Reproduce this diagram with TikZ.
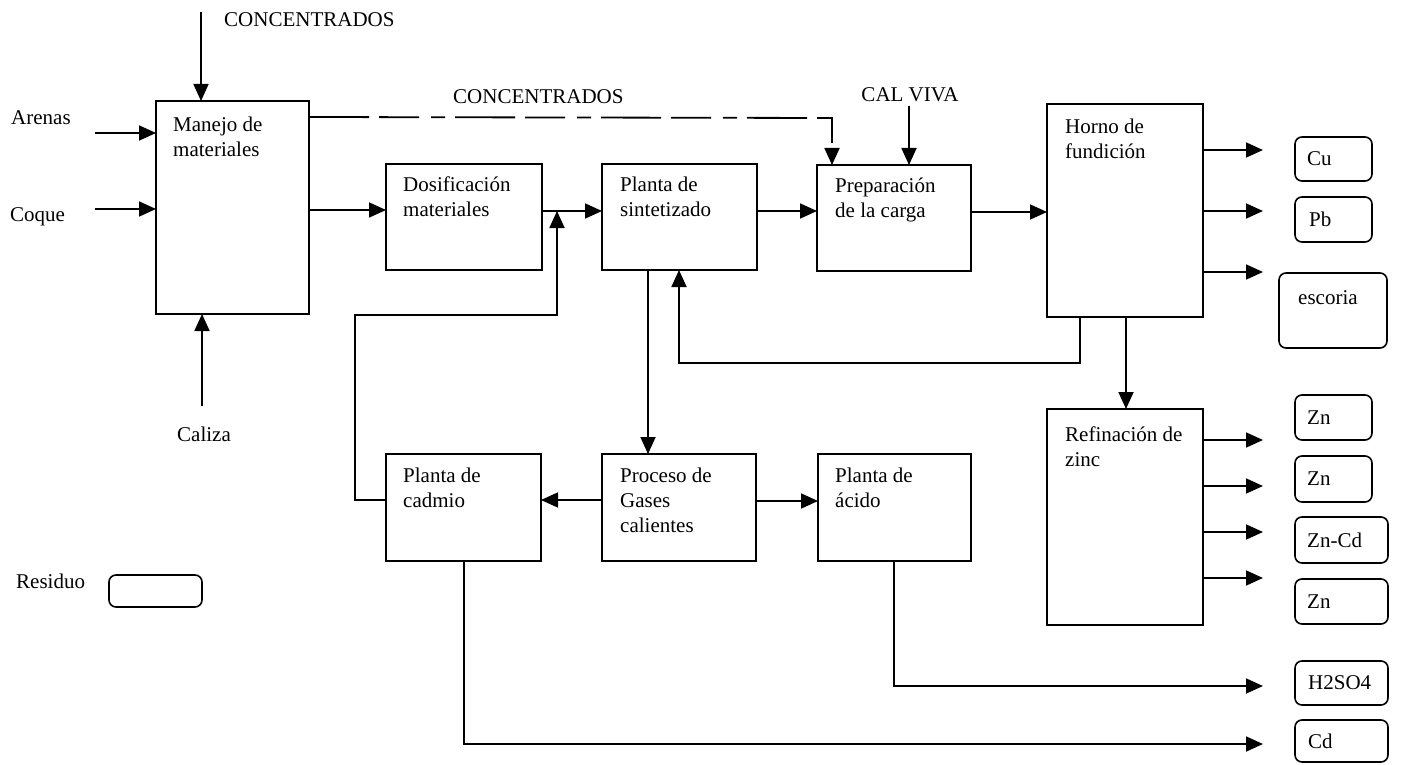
\documentclass[tikz,border=0pt]{standalone}
\usepackage{fontspec}
\setmainfont{Liberation Serif}
\usetikzlibrary{arrows.meta}
\begin{document}
\begin{tikzpicture}[x=1pt,y=-1pt,
  box/.style={draw, line width=1.8pt, inner sep=0, outer sep=0, anchor=north west},
  obox/.style={draw, line width=1.6pt, rounded corners=7pt, inner sep=0, outer sep=0, anchor=north west},
  lbl/.style={anchor=north west, inner sep=0, align=left, font=\fontsize{21}{25}\selectfont},
  txt/.style={inner sep=0, font=\fontsize{21}{25}\selectfont},
  flow/.style={line width=1.8pt, -{Triangle[length=17pt,width=15pt]}},
  conn/.style={line width=1.8pt}
]
\useasboundingbox (0,0) rectangle (1403,765);

% process boxes
\node[box, minimum width=153pt, minimum height=213pt] (man) at (156,101) {};
\node[box, minimum width=156pt, minimum height=106pt] (dos) at (386,164) {};
\node[box, minimum width=155pt, minimum height=106pt] (sin) at (602,164) {};
\node[box, minimum width=154pt, minimum height=106pt] (pre) at (817,165) {};
\node[box, minimum width=156pt, minimum height=213pt] (hor) at (1047,104) {};
\node[box, minimum width=155pt, minimum height=107pt] (cad) at (386,454) {};
\node[box, minimum width=154pt, minimum height=107pt] (gas) at (602,454) {};
\node[box, minimum width=153pt, minimum height=107pt] (aci) at (818,454) {};
\node[box, minimum width=156pt, minimum height=216pt] (ref) at (1047,409) {};

% box texts
\node[lbl] (manT) at ([shift={(17,16)}]man.north west) {Manejo de\\materiales};
\node[lbl] (dosT) at ([shift={(17,13)}]dos.north west) {Dosificación\\materiales};
\node[lbl] (sinT) at ([shift={(18,13)}]sin.north west) {Planta de\\sintetizado};
\node[lbl] (preT) at ([shift={(18,13)}]pre.north west) {Preparación\\de la carga};
\node[lbl] (horT) at ([shift={(18,15)}]hor.north west) {Horno de\\fundición};
\node[lbl] (cadT) at ([shift={(17,14)}]cad.north west) {Planta de\\cadmio};
\node[lbl] (gasT) at ([shift={(18,14)}]gas.north west) {Proceso de\\Gases\\calientes};
\node[lbl] (aciT) at ([shift={(17,14)}]aci.north west) {Planta de\\ácido};
\node[lbl] (refT) at ([shift={(18,18)}]ref.north west) {Refinación de\\zinc};

% product boxes
\node[obox, minimum width=77pt, minimum height=44pt] (cu) at (1295,137) {};
\node[obox, minimum width=77pt, minimum height=45pt] (pb) at (1295,197) {};
\node[obox, minimum width=108pt, minimum height=75pt] (esc) at (1279,273) {};
\node[obox, minimum width=77pt, minimum height=45pt] (zna) at (1295,395) {};
\node[obox, minimum width=77pt, minimum height=46pt] (znb) at (1295,456) {};
\node[obox, minimum width=93pt, minimum height=46pt] (zncd) at (1295,517) {};
\node[obox, minimum width=93pt, minimum height=45pt] (znc) at (1295,579) {};
\node[obox, minimum width=93pt, minimum height=44pt] (hso) at (1295,661) {};
\node[obox, minimum width=93pt, minimum height=42pt] (cd) at (1295,720) {};
\node[obox, minimum width=93pt, minimum height=32pt] (resB) at (109,575) {};

\node[txt, anchor=west] (cuT) at ([xshift=12pt]cu.west) {Cu};
\node[txt, anchor=west] (pbT) at ([xshift=14pt]pb.west) {Pb};
\node[txt, anchor=base west] (escT) at (1298,304) {escoria};
\node[txt, anchor=west] (znaT) at ([xshift=12pt]zna.west) {Zn};
\node[txt, anchor=west] (znbT) at ([xshift=12pt]znb.west) {Zn};
\node[txt, anchor=west] (zncdT) at ([xshift=12pt]zncd.west) {Zn-Cd};
\node[txt, anchor=west] (zncT) at ([xshift=12pt]znc.west) {Zn};
\node[txt, anchor=west] (hsoT) at ([xshift=13pt]hso.west) {H2SO4};
\node[txt, anchor=west] (cdT) at ([xshift=13pt]cd.west) {Cd};

% free labels
\node[txt, anchor=base west] (conc1) at (224,27) {CONCENTRADOS};
\node[txt, anchor=base west] (conc2) at (453,104) {CONCENTRADOS};
\node[txt, anchor=base] (calv) at (910,102) {CAL VIVA};
\node[txt, anchor=base west] (are) at (11,125) {Arenas};
\node[txt, anchor=base west] (coq) at (10,221) {Coque};
\node[txt, anchor=base west] (cal) at (177,441) {Caliza};
\node[txt, anchor=base west] (res) at (16,588) {Residuo};

% free ends
\coordinate (concS) at (201,12);
\coordinate (areS) at (95,133);
\coordinate (coqS) at (95,209);
\coordinate (calS) at (202,406);
\coordinate (calvS) at (909,106);
\coordinate (dashTurn) at (832,118);
\coordinate (junc) at (557,211);
\coordinate (outX) at (1263,0);

% inputs to Manejo
\draw[flow] (concS) -- (concS |- man.north);
\draw[flow] (areS) -- (areS -| man.west);
\draw[flow] (coqS) -- (coqS -| man.west);
\draw[flow] (calS) -- (calS |- man.south);

% main line
\draw[flow] (man.east |- 0,210) -- (dos.west |- 0,210);
\draw[flow] (dos.east |- junc) -- (sin.west |- junc);
\draw[flow] (sin.east |- 0,211) -- (pre.west |- 0,211);
\draw[flow] (pre.east |- 0,212) -- (hor.west |- 0,212);

% concentrados (dashed) and cal viva
\draw[flow, dash pattern=on 60pt off 10pt on 40pt off 12pt on 14pt off 10pt] (man.east |- 0,117) -- (dashTurn) -- (dashTurn |- pre.north);
\draw[flow] (calvS) -- (calvS |- pre.north);

% recycle loops
\draw[flow] (cad.west |- 0,500) -- (355,500) -- (355,315) -- (junc |- 0,315) -- (junc);
\draw[flow] (1080,0 |- hor.south) -- (1080,363) -- (679,363) -- (679,0 |- sin.south);

% gases
\draw[flow] (648,0 |- sin.south) -- (648,0 |- gas.north);
\draw[flow] (gas.west |- 0,500) -- (cad.east |- 0,500);
\draw[flow] (gas.east |- 0,501) -- (aci.west |- 0,501);

% horno outputs
\draw[flow] (1126,0 |- hor.south) -- (1126,0 |- ref.north);
\draw[flow] (hor.east |- 0,150) -- (outX |- 0,150);
\draw[flow] (hor.east |- 0,211) -- (outX |- 0,211);
\draw[flow] (hor.east |- 0,272) -- (outX |- 0,272);

% refinacion outputs
\draw[flow] (ref.east |- 0,440) -- (outX |- 0,440);
\draw[flow] (ref.east |- 0,486) -- (outX |- 0,486);
\draw[flow] (ref.east |- 0,532) -- (outX |- 0,532);
\draw[flow] (ref.east |- 0,578) -- (outX |- 0,578);

% acid and cadmium products
\draw[flow] (894,0 |- aci.south) -- (894,686) -- (outX |- 0,686);
\draw[flow] (464,0 |- cad.south) -- (464,744) -- (outX |- 0,744);
\end{tikzpicture}
\end{document}
